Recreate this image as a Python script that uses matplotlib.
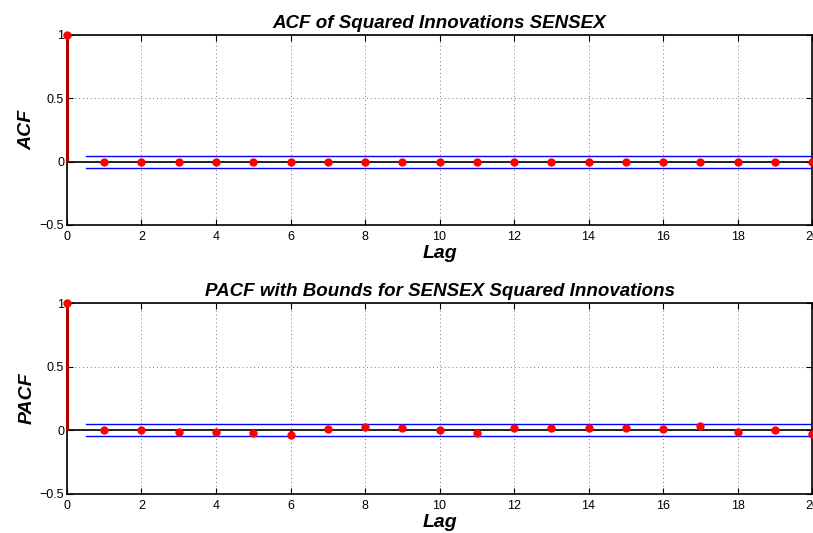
import numpy as np
import matplotlib
matplotlib.use("Agg")
import matplotlib.pyplot as plt

plt.rcParams['font.family'] = ['Liberation Sans', 'DejaVu Sans']

lags = list(range(0, 21))
acf = [1.0] + [0.0] * 20
pacf = [1.0, 0.005, 0.003, -0.016, -0.013, -0.023, -0.036, 0.013, 0.023, 0.016,
        0.003, -0.023, 0.016, 0.018, 0.021, 0.021, 0.010, 0.036, -0.016, 0.0, -0.026]
bound = 0.047

titles = ["ACF of Squared Innovations SENSEX",
          "PACF with Bounds for SENSEX Squared Innovations"]
ylabels = ["ACF", "PACF"]
xticks = list(range(0, 21, 2))
yticks = [-0.5, 0, 0.5, 1]
yticklabels = ["\u22120.5", "0", "0.5", "1"]

fig = plt.figure(figsize=(8.13, 5.33), dpi=100)
positions = [[0.0824, 0.5779, 0.9164, 0.3565],
             [0.0824, 0.0732, 0.9164, 0.3583]]

for pos, vals, title, ylab in zip(positions, [acf, pacf], titles, ylabels):
    ax = fig.add_axes(pos)
    ax.axhline(0, color='black', lw=1.2, zorder=2)
    ax.plot([0.5, 20], [bound, bound], color='blue', lw=1, zorder=2)
    ax.plot([0.5, 20], [-bound, -bound], color='blue', lw=1, zorder=2)
    ax.vlines(lags, 0, vals, color='#b00000', lw=2.2, zorder=5, clip_on=False)
    ax.plot(lags, vals, 'o', color='red', ms=5, zorder=6, clip_on=False)
    ax.set_xlim(0, 20)
    ax.set_ylim(-0.5, 1)
    ax.set_xticks(xticks)
    ax.set_yticks(yticks)
    ax.set_yticklabels(yticklabels)
    ax.tick_params(direction='in', top=True, right=True, labelsize=9, length=4)
    ax.tick_params(axis='x', pad=4)
    ax.tick_params(axis='y', pad=2)
    ax.grid(True, ls=(0, (1, 3)), color='#777777', lw=0.7)
    ax.set_axisbelow(True)
    for s in ax.spines.values():
        s.set_linewidth(1.2)
    ax.set_title(title, fontsize=13.5, fontweight='bold', style='italic', pad=5)
    ax.set_ylabel(ylab, fontsize=14, fontweight='bold', style='italic', labelpad=3)
    ax.set_xlabel("Lag", fontsize=14, fontweight='bold', style='italic', labelpad=2)

fig.savefig("out.png", dpi=100)
